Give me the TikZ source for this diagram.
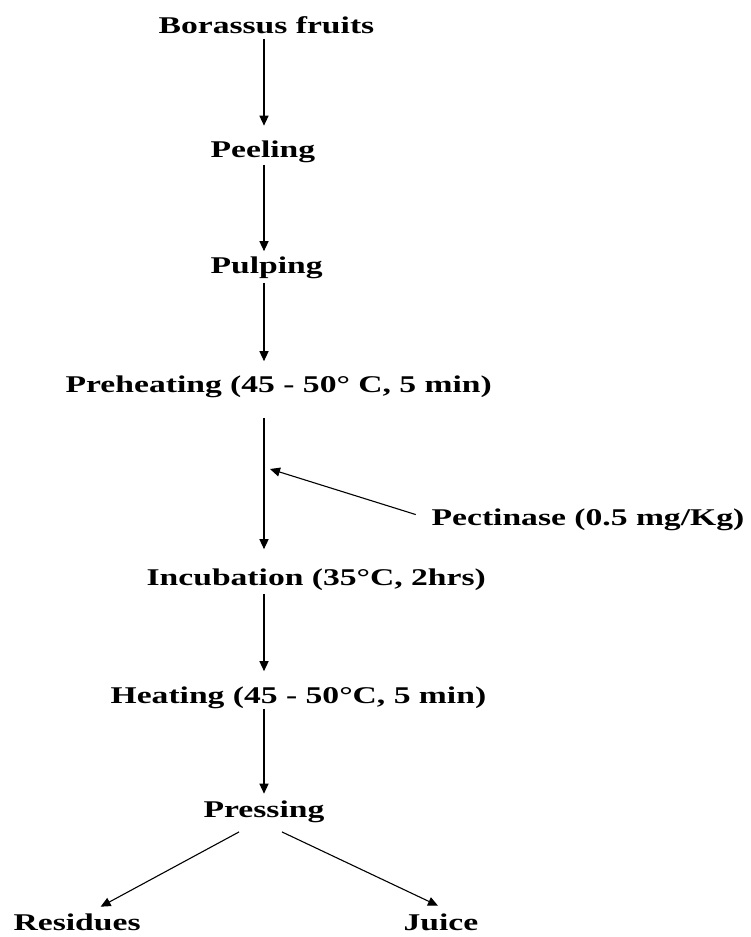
\documentclass[tikz,border=0pt]{standalone}
\usepackage{fontspec}
\setmainfont{Liberation Serif}[FakeStretch=1.4]
\usetikzlibrary{arrows.meta,positioning,calc}

\begin{document}
\begin{tikzpicture}[>={Triangle[length=10pt,width=9pt]},line width=1.3pt,x=1pt,y=-1pt,
  stage/.style={anchor=base west,inner sep=0pt,font=\bfseries\fontsize{24}{28}\selectfont},
  flow/.style={->}]
\useasboundingbox (0,0) rectangle (750,937);
\coordinate (spine) at (264,0);
\node[stage] (bor) at (158,33) {Borassus fruits};
\node[stage] (peel) at (210,157) {Peeling};
\node[stage] (pulp) at (210,273) {Pulping};
\node[stage] (preh) at (65,392) {Preheating (45 - 50° C, 5 min)};
\node[stage] (pect) at (431,525) {Pectinase (0.5 mg/Kg)};
\node[stage] (incu) at (146,585) {Incubation (35°C, 2hrs)};
\node[stage] (heat) at (110,703) {Heating (45 - 50°C, 5 min)};
\node[stage] (press) at (203,817) {Pressing};
\node[stage] (res) at (13,930) {Residues};
\node[stage] (juice) at (403,930) {Juice};
\coordinate (dose) at (270,469);
% main line
\draw[flow,shorten <=5pt,shorten >=14pt] (spine |- bor.south)--(spine |- peel.north);
\draw[flow,shorten <=2pt,shorten >=4.5pt] (spine |- peel.south)--(spine |- pulp.north);
\draw[flow,shorten <=4pt,shorten >=13.5pt] (spine |- pulp.south)--(spine |- preh.north);
\draw[flow,shorten <=20pt,shorten >=18.5pt] (spine |- preh.south)--(spine |- incu.north);
\draw[flow,shorten <=3pt,shorten >=14.5pt] (spine |- incu.south)--(spine |- heat.north);
\draw[flow,shorten >=6pt] (spine |- heat.south)--(spine |- press.north);
\draw[flow,line width=1.1pt,shorten <=16pt] (pect.west)--(dose);
% split
\draw[flow,line width=1.1pt] ($(press.south)+(-25,9)$)--($(res.north)+(23.5,-6)$);
\draw[flow,line width=1.1pt] ($(press.south)+(18,9)$)--($(juice.north)+(-3,-7)$);
\end{tikzpicture}
\end{document}
